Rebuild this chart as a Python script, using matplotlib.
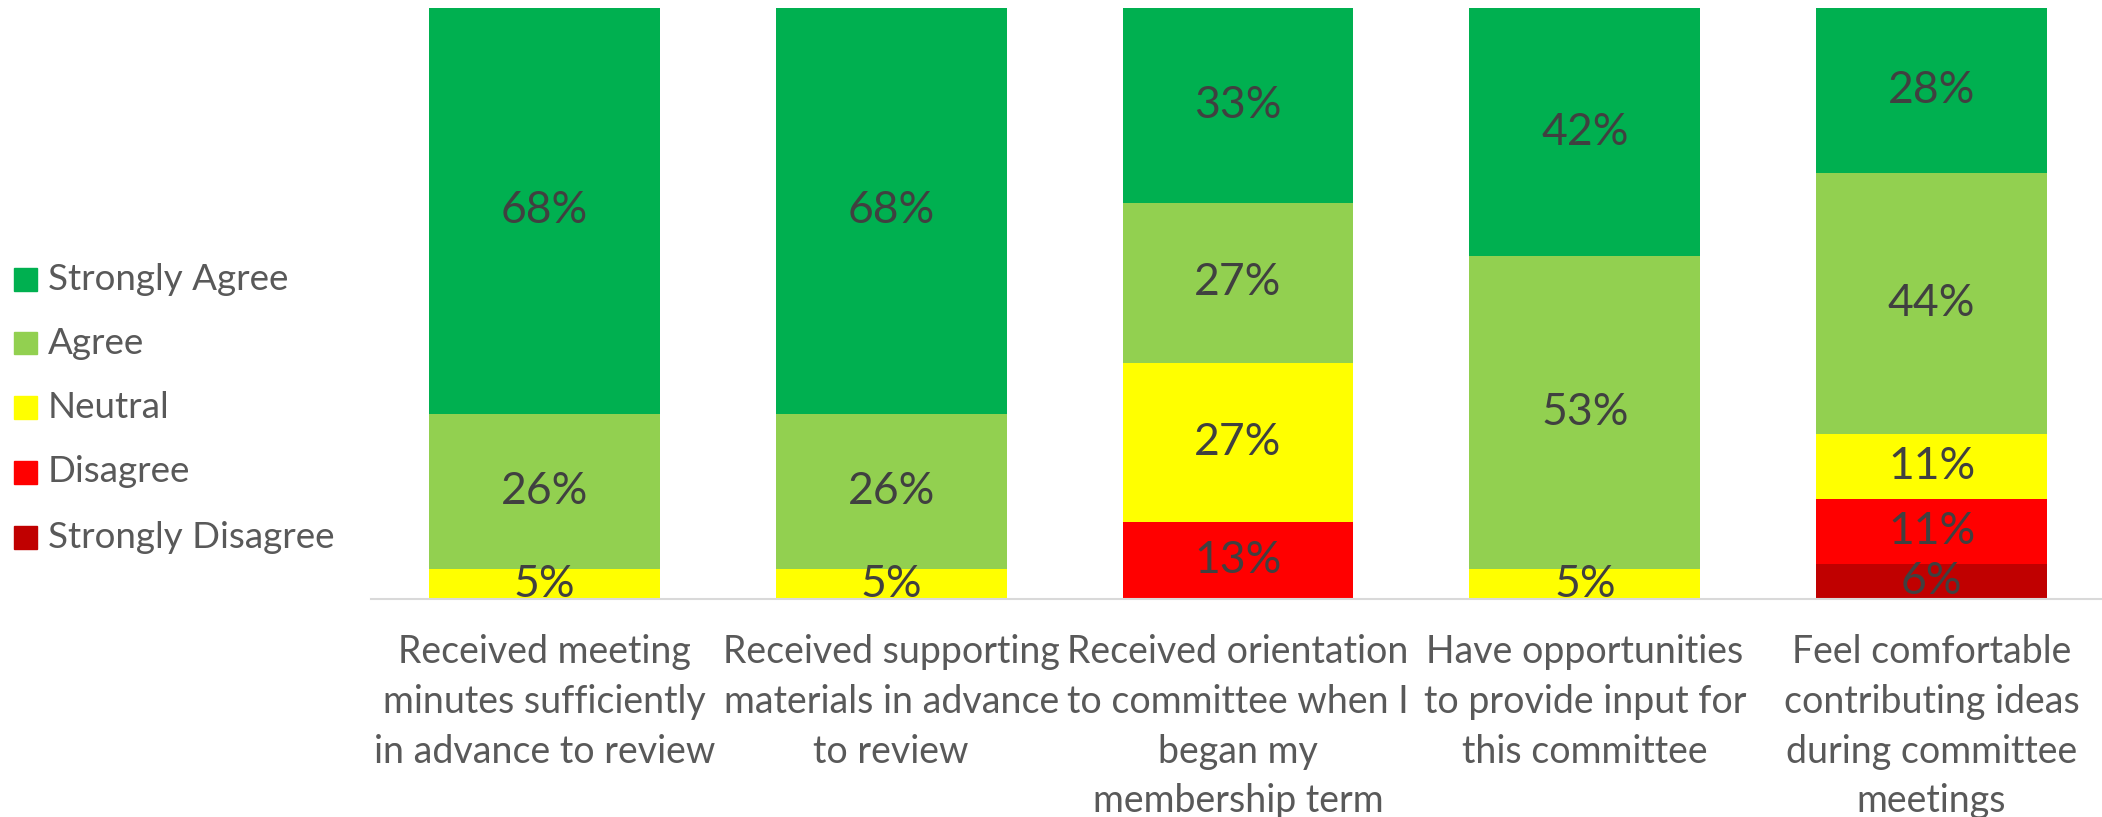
import matplotlib.pyplot as plt
from matplotlib.patches import Rectangle
import numpy as np

plt.rcParams['font.family'] = ['Lato', 'DejaVu Sans']

# Survey questions (x categories), wrapped as in the original chart
questions = [
    "Received meeting\nminutes sufficiently\nin advance to review",
    "Received supporting\nmaterials in advance\nto review",
    "Received orientation\nto committee when I\nbegan my\nmembership term",
    "Have opportunities\nto provide input for\nthis committee",
    "Feel comfortable\ncontributing ideas\nduring committee\nmeetings",
]

# Percent of responses, bottom to top of each stack
strongly_disagree = [0, 0, 0, 0, 6]
disagree = [0, 0, 13, 0, 11]
neutral = [5, 5, 27, 5, 11]
agree = [26, 26, 27, 53, 44]
strongly_agree = [68, 68, 33, 42, 28]

series = [
    ("Strongly Disagree", strongly_disagree, '#C00000'),
    ("Disagree", disagree, '#FF0000'),
    ("Neutral", neutral, '#FFFF00'),
    ("Agree", agree, '#92D050'),
    ("Strongly Agree", strongly_agree, '#00B050'),
]

W, H = 2102, 817
fig = plt.figure(figsize=(W / 100, H / 100), dpi=100)
ax = fig.add_axes([371 / W, (H - 599) / H, 1734 / W, 591 / H])

x = np.arange(len(questions))
totals = np.sum([s[1] for s in series], axis=0)
bottom = np.zeros(len(questions))

for name, vals, color in series:
    vals = np.array(vals, dtype=float)
    share = vals / totals  # 100% stacked
    bars = ax.bar(x, share, 0.666, bottom=bottom, color=color, label=name)
    labels = ["{:d}%".format(int(v)) if v > 0 else "" for v in vals]
    ax.bar_label(bars, labels=labels, label_type='center',
                 fontsize=32, color='#404040')
    bottom = bottom + share

ax.set_xlim(-0.5, len(questions) - 0.5)
ax.set_ylim(0, 1)
ax.set_xticks(x)
ax.set_xticklabels(questions, fontsize=27, color='#595959', linespacing=1.48)
ax.tick_params(axis='x', length=0, pad=25)
ax.set_yticks([])
for side in ['top', 'left', 'right']:
    ax.spines[side].set_visible(False)
ax.spines['bottom'].set_color('#D9D9D9')
ax.spines['bottom'].set_linewidth(1.5)

# Legend, top entry first
legend_y = [279, 343, 407, 472, 537]
for (name, vals, color), yc in zip(series[::-1], legend_y):
    fig.add_artist(Rectangle((14 / W, (H - yc - 11.5) / H), 23 / W, 23 / H,
                             transform=fig.transFigure, color=color))
    fig.text(48 / W, (H - yc) / H, name, fontsize=26.5, color='#595959',
             va='center', ha='left')

plt.savefig('out.png', dpi=100)
